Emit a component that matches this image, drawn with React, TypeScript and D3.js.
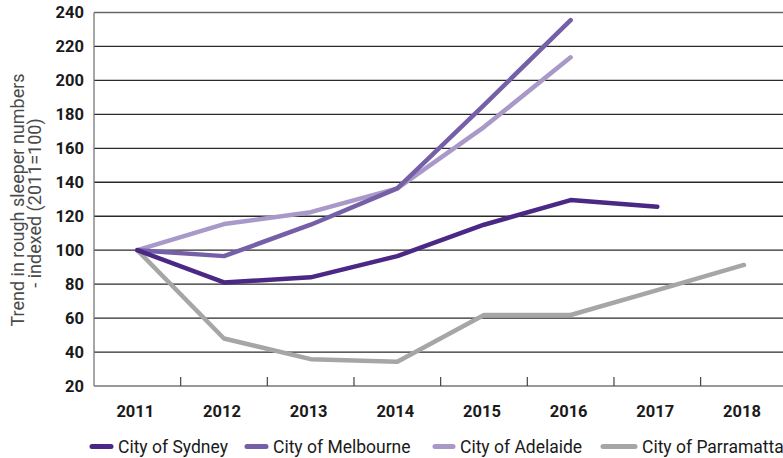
import React from "react";
import * as d3 from "d3";

const years = ["2011", "2012", "2013", "2014", "2015", "2016", "2017", "2018"];
const yTicks = [20, 40, 60, 80, 100, 120, 140, 160, 180, 200, 220, 240];
const seriesNames = ["City of Sydney", "City of Melbourne", "City of Adelaide", "City of Parramatta"];
const sydney: (number | null)[] = [100, 81, 84, 96.5, 115, 129.5, 125.6, null];
const melbourne: (number | null)[] = [100, 96.5, 115, 136.4, 185.5, 235.5, null, null];
const adelaide: (number | null)[] = [100, 115.4, 122.4, 136.4, 172.5, 213.6, null, null];
const parramatta: (number | null)[] = [100, 48, 35.8, 34.3, 61.8, 61.8, 76.5, 91.3];
const colors = ["#4b2886", "#7560a8", "#a999c9", "#a6a6a6"];

const W = 783;
const H = 458;

export default function App() {
  const x = d3.scaleBand<string>().domain(years).range([94, 787.3]);
  const y = d3.scaleLinear().domain([20, 240]).range([386, 12.5]);
  const allSeries = [sydney, melbourne, adelaide, parramatta];
  const line = d3
    .line<number | null>()
    .defined((d) => d !== null)
    .x((_, i) => (x(years[i]) as number) + x.bandwidth() / 2)
    .y((d) => y(d as number));
  const font = "Roboto, 'DejaVu Sans', sans-serif";
  const legendX = [92, 247, 435, 603];
  const legendW = [19, 19, 18, 32];
  const tickBoundaries = years.map((yr) => x(yr) as number).slice(1);
  tickBoundaries.push(x.range()[1]);

  const drawOrder = [3, 2, 1, 0];

  return (
    <svg
      width={W}
      height={H}
      style={{ position: "absolute", left: 0, top: 0, background: "#fff" }}
      fontFamily={font}
    >
      {/* gridlines */}
      {yTicks.slice(1).map((t) => (
        <line
          key={t}
          x1={94}
          x2={W}
          y1={y(t)}
          y2={y(t)}
          stroke={t === 240 ? "#666" : "#2a2a2a"}
          strokeWidth={1.3}
        />
      ))}
      {/* axes */}
      <line x1={94} x2={94} y1={y(240)} y2={y(20)} stroke="#777" strokeWidth={1.3} />
      <line x1={94} x2={W} y1={y(20)} y2={y(20)} stroke="#777" strokeWidth={1.3} />
      {tickBoundaries.map((bx, i) => (
        <line key={i} x1={bx} x2={bx} y1={y(20)} y2={y(20) - 9} stroke="#444" strokeWidth={1.2} />
      ))}
      {/* y tick labels */}
      {yTicks.map((t) => (
        <text
          key={t}
          x={84}
          y={y(t)}
          textAnchor="end"
          dominantBaseline="central"
          fontSize={16.5}
          fontWeight={700}
          fill="#1a1a1a"
        >
          {t}
        </text>
      ))}
      {/* x tick labels */}
      {years.map((yr) => (
        <text
          key={yr}
          x={(x(yr) as number) + x.bandwidth() / 2 - 2}
          y={417}
          textAnchor="middle"
          fontSize={16.5}
          fontWeight={700}
          fill="#1a1a1a"
        >
          {yr}
        </text>
      ))}
      {/* y axis title */}
      <g transform="translate(0,201) rotate(-90)">
        <text x={1} y={24} textAnchor="middle" fontSize={18} fill="#4a4a4a">
          Trend in rough sleeper numbers
        </text>
        <text x={-2} y={41} textAnchor="middle" fontSize={18} fill="#4a4a4a">
          - indexed (2011=100)
        </text>
      </g>
      {/* lines */}
      {drawOrder.map((i) => (
        <path
          key={i}
          d={line(allSeries[i]) || ""}
          fill="none"
          stroke={colors[i]}
          strokeWidth={4.5}
          strokeLinecap="round"
          strokeLinejoin="round"
        />
      ))}
      {/* legend */}
      {seriesNames.map((name, i) => (
        <g key={name}>
          <line
            x1={legendX[i]}
            x2={legendX[i] + legendW[i]}
            y1={446.5}
            y2={446.5}
            stroke={colors[i]}
            strokeWidth={5}
            strokeLinecap="round"
          />
          <text x={legendX[i] + legendW[i] + 7} y={453} fontSize={17.5} fill="#1a1a1a">
            {name}
          </text>
        </g>
      ))}
    </svg>
  );
}
